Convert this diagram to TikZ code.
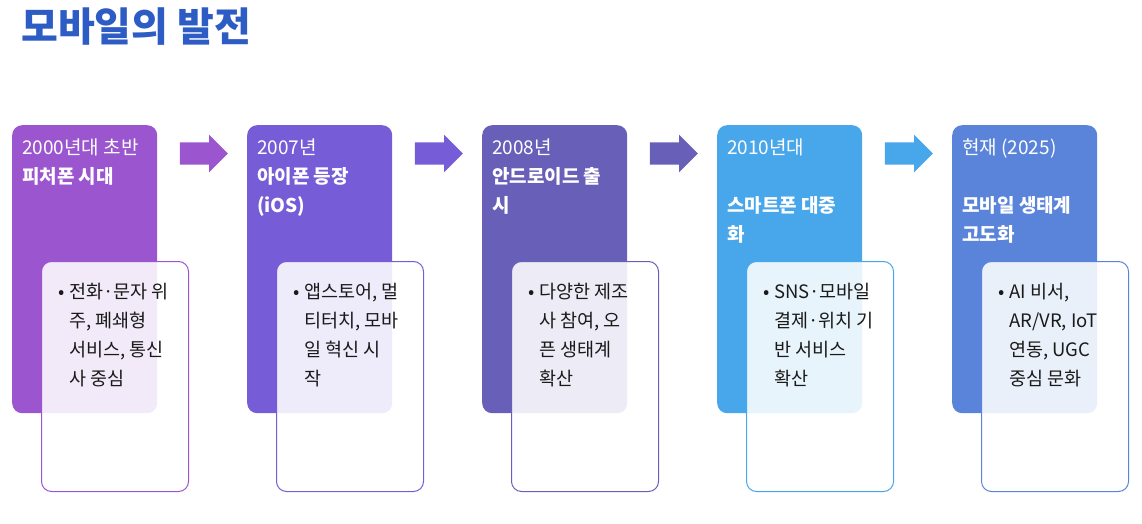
\documentclass[tikz,border=0pt]{standalone}
\usepackage{fontspec}
\setmainfont{Noto Sans CJK KR}
\usepackage{tikz}
\usetikzlibrary{arrows.meta,positioning,calc,shapes.arrows}
\definecolor{TitleBlue}  {HTML}{2E5CC5}
\definecolor{FeatPurple} {HTML}{9B56CF}
\definecolor{IosViolet}  {HTML}{775CD7}
\definecolor{DroidIndigo}{HTML}{6860B8}
\definecolor{SmartSky}   {HTML}{48A6EB}
\definecolor{EcoBlue}    {HTML}{5A84DA}
\definecolor{BodyText}   {HTML}{1A1A1A}

\begin{document}
\begin{tikzpicture}[x=1pt,y=-1pt,
  stage/.style={fill=#1,rounded corners=10pt,minimum width=145pt,
        minimum height=288pt,inner sep=0pt,anchor=north west},
  note/.style={draw=#1,line width=1pt,fill=white,fill opacity=0.88,
        rounded corners=10pt,minimum width=147pt,minimum height=230pt,
        inner sep=0pt,anchor=north west},
  flow/.style={single arrow,fill=#1,inner sep=11pt,minimum height=48pt,
        minimum width=37pt,single arrow head extend=7.5pt},
  head/.style={text=white,font=\fontsize{19}{29}\selectfont,align=left,
        inner sep=0pt,anchor=north west},
  body/.style={text=BodyText,font=\fontsize{18.5}{29}\selectfont,align=left,
        inner sep=0pt,anchor=north west}]
  \useasboundingbox (0,0) rectangle (1142,524);

  \node[font=\fontsize{40}{44}\selectfont\bfseries,text=TitleBlue,
        anchor=north west,inner sep=0pt] (title) at (21,8) {모바일의 발전};

  % stages
  \node[stage=FeatPurple]  (s1) at (12,125)  {};
  \node[stage=IosViolet]   (s2) at (247,125) {};
  \node[stage=DroidIndigo] (s3) at (482,125) {};
  \node[stage=SmartSky]    (s4) at (717,125) {};
  \node[stage=EcoBlue]     (s5) at (952,125) {};

  % arrows
  \node[flow=FeatPurple]  (a1) at ($(s1.north east)!0.5!(s2.north west)+(-4,28.5)$) {};
  \node[flow=IosViolet]   (a2) at ($(s2.north east)!0.5!(s3.north west)+(-4,28.5)$) {};
  \node[flow=DroidIndigo] (a3) at ($(s3.north east)!0.5!(s4.north west)+(-4,28.5)$) {};
  \node[flow=SmartSky]    (a4) at ($(s4.north east)!0.5!(s5.north west)+(-4,28.5)$) {};

  % headings
  \node[head] (h1) at ([shift={(10,14)}]s1.north west)
    {2000년대 초반\\\textbf{피처폰 시대}};
  \node[head] (h2) at ([shift={(10,14)}]s2.north west)
    {2007년\\\textbf{아이폰 등장}\\\textbf{(iOS)}};
  \node[head] (h3) at ([shift={(10,14)}]s3.north west)
    {2008년\\\textbf{안드로이드 출}\\\textbf{시}};
  \node[head] (h4) at ([shift={(10,14)}]s4.north west)
    {2010년대\\[29pt]\textbf{스마트폰 대중}\\\textbf{화}};
  \node[head] (h5) at ([shift={(10,14)}]s5.north west)
    {현재 (2025)\\[29pt]\textbf{모바일 생태계}\\\textbf{고도화}};

  % notes
  \node[note=FeatPurple]  (n1) at ([shift={(29,136)}]s1.north west) {};
  \node[note=IosViolet]   (n2) at ([shift={(29,136)}]s2.north west) {};
  \node[note=DroidIndigo] (n3) at ([shift={(29,136)}]s3.north west) {};
  \node[note=SmartSky]    (n4) at ([shift={(29,136)}]s4.north west) {};
  \node[note=EcoBlue]     (n5) at ([shift={(29,136)}]s5.north west) {};

  \node[body] (b1) at ([shift={(28,22)}]n1.north west)
    {\llap{•\hspace{4pt}}전화·문자 위\\주, 폐쇄형\\서비스, 통신\\사 중심};
  \node[body] (b2) at ([shift={(28,22)}]n2.north west)
    {\llap{•\hspace{4pt}}앱스토어, 멀\\티터치, 모바\\일 혁신 시\\작};
  \node[body] (b3) at ([shift={(28,22)}]n3.north west)
    {\llap{•\hspace{4pt}}다양한 제조\\사 참여, 오\\픈 생태계\\확산};
  \node[body] (b4) at ([shift={(28,22)}]n4.north west)
    {\llap{•\hspace{4pt}}SNS·모바일\\결제·위치 기\\반 서비스\\확산};
  \node[body] (b5) at ([shift={(28,22)}]n5.north west)
    {\llap{•\hspace{4pt}}AI 비서,\\AR/VR, IoT\\연동, UGC\\중심 문화};
\end{tikzpicture}
\end{document}
